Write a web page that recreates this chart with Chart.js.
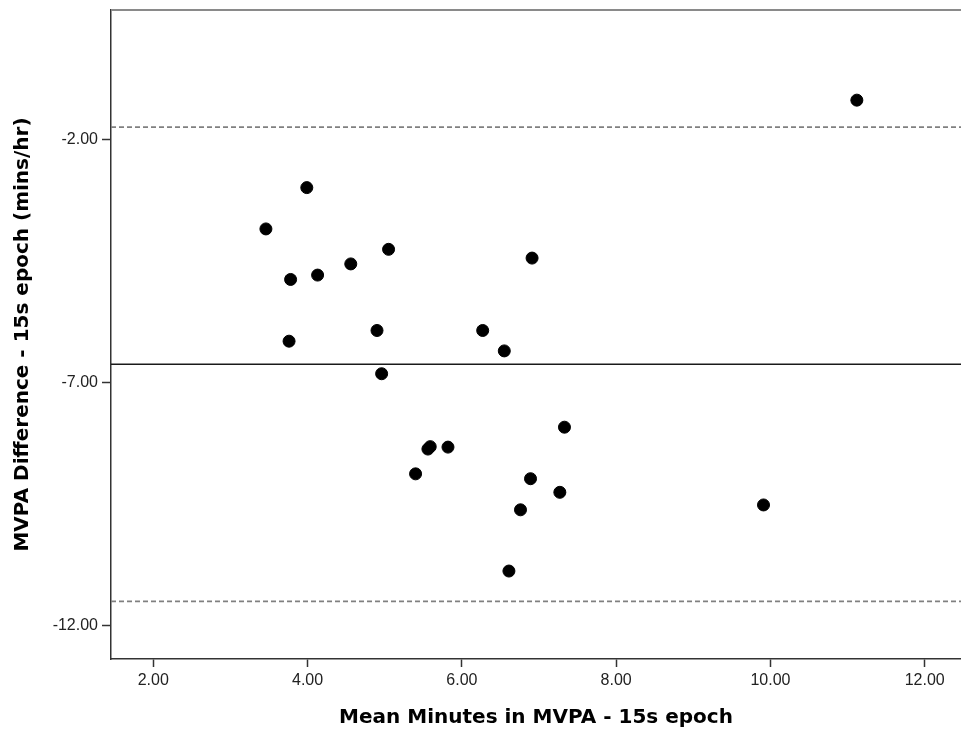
<!DOCTYPE html>
<html>
<head>
<meta charset="utf-8">
<script src="https://cdn.jsdelivr.net/npm/chart.js@4/dist/chart.umd.min.js"></script>
<style>
  body { margin: 0; background: #fff; }
  #wrap { width: 961px; height: 734px; }
</style>
</head>
<body>
<div id="wrap"><canvas id="chart" width="961" height="734"></canvas></div>
<script>
// Bland-Altman data
const meanMinutes = [3.99, 3.46, 5.05, 4.56, 4.13, 3.78, 6.91, 3.76, 4.90, 6.27, 6.55, 4.96,
    7.33, 5.59, 5.56, 5.82, 5.40, 6.89, 7.27, 6.76, 6.61, 11.12, 9.91];
const differences = [-2.98, -3.83, -4.25, -4.55, -4.78, -4.87, -4.43, -6.14, -5.92, -5.92, -6.34, -6.81,
    -7.91, -8.31, -8.36, -8.32, -8.87, -8.97, -9.25, -9.61, -10.87, -1.18, -9.51];

const meanDiff = -6.615;
const upperLimit = -1.735;
const lowerLimit = -11.495;

const xTicks = [2, 4, 6, 8, 10, 12];
const yTicks = [-2, -7, -12];

const xMin = 1.452, xMax = 12.47;
const yMin = -12.68, yMax = 0.675;

const points = meanMinutes.map((m, i) => ({ x: m, y: differences[i] }));

function hLine(y) {
    return [{ x: xMin, y: y }, { x: xMax, y: y }];
}

// top frame line of the plot box
const topFrame = {
    id: 'topFrame',
    afterDraw(chart) {
        const ctx = chart.ctx;
        const a = chart.chartArea;
        ctx.save();
        ctx.strokeStyle = '#8a8a8a';
        ctx.lineWidth = 2;
        ctx.beginPath();
        ctx.moveTo(a.left, a.top);
        ctx.lineTo(a.right, a.top);
        ctx.stroke();
        ctx.restore();
    }
};

const ctx = document.getElementById('chart').getContext('2d');

new Chart(ctx, {
    type: 'scatter',
    data: {
        datasets: [
            {
                label: 'Difference',
                data: points,
                backgroundColor: '#000',
                borderColor: '#000',
                pointRadius: 6,
                pointHoverRadius: 6
            },
            {
                label: 'Mean',
                data: hLine(meanDiff),
                showLine: true,
                borderColor: '#1a1a1a',
                borderWidth: 1.3,
                pointRadius: 0
            },
            {
                label: 'Upper limit',
                data: hLine(upperLimit),
                showLine: true,
                borderColor: '#808080',
                borderWidth: 1.6,
                borderDash: [5, 3],
                pointRadius: 0
            },
            {
                label: 'Lower limit',
                data: hLine(lowerLimit),
                showLine: true,
                borderColor: '#808080',
                borderWidth: 1.6,
                borderDash: [5, 3],
                pointRadius: 0
            }
        ]
    },
    options: {
        responsive: false,
        animation: false,
        layout: { autoPadding: false, padding: { top: 10, right: 0, bottom: 0, left: 0 } },
        plugins: {
            legend: { display: false },
            tooltip: { enabled: false }
        },
        scales: {
            x: {
                type: 'linear',
                min: xMin,
                max: xMax,
                afterBuildTicks: scale => { scale.ticks = xTicks.map(v => ({ value: v })); },
                afterFit: scale => {
                    scale.height = 75;
                    scale.paddingLeft = 0;
                    scale.paddingRight = 0;
                },
                grid: { drawOnChartArea: false, drawTicks: true, tickLength: 8, tickColor: '#333', tickWidth: 1.5 },
                border: { display: true, color: '#333', width: 1.5 },
                ticks: {
                    color: '#222',
                    font: { family: '"Liberation Sans", Arial, sans-serif', size: 16 },
                    padding: 4,
                    maxRotation: 0,
                    callback: v => Number(v).toFixed(2)
                },
                title: {
                    display: true,
                    text: 'Mean Minutes in MVPA - 15s epoch',
                    color: '#000',
                    font: { family: '"DejaVu Sans", Verdana, sans-serif', size: 20, weight: 'bold' },
                    padding: { top: 0, bottom: 4 }
                }
            },
            y: {
                type: 'linear',
                min: yMin,
                max: yMax,
                afterBuildTicks: scale => { scale.ticks = yTicks.map(v => ({ value: v })); },
                afterFit: scale => {
                    scale.width = 111;
                    scale.paddingTop = 0;
                    scale.paddingBottom = 0;
                },
                grid: { drawOnChartArea: false, drawTicks: true, tickLength: 9, tickColor: '#333', tickWidth: 1.5 },
                border: { display: true, color: '#333', width: 1.5 },
                ticks: {
                    color: '#222',
                    font: { family: '"Liberation Sans", Arial, sans-serif', size: 16 },
                    padding: 4,
                    callback: v => Number(v).toFixed(2)
                },
                title: {
                    display: true,
                    text: 'MVPA Difference - 15s epoch (mins/hr)',
                    color: '#000',
                    font: { family: '"DejaVu Sans", Verdana, sans-serif', size: 20, weight: 'bold' },
                    padding: { top: 11, bottom: 0 }
                }
            }
        }
    },
    plugins: [topFrame]
});
</script>
</body>
</html>
